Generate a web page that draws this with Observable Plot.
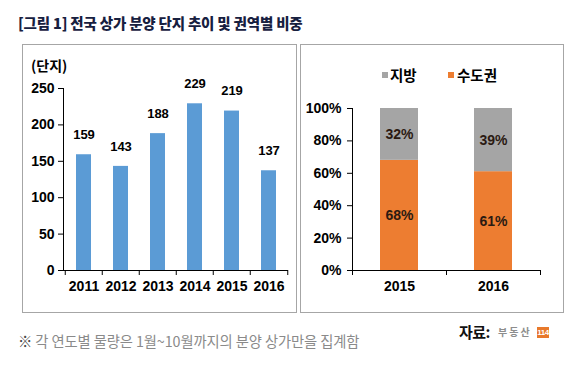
<!DOCTYPE html>
<html><head><meta charset="utf-8">
<script src="https://cdn.jsdelivr.net/npm/d3@7"></script>
<script src="https://cdn.jsdelivr.net/npm/@observablehq/plot@0.6"></script>
<style>
body{margin:0;background:#fff;width:587px;height:376px;position:relative;overflow:hidden;font-family:"Noto Sans CJK KR",sans-serif;}
.abs{position:absolute;white-space:nowrap;}
#title{left:18px;top:12px;font-size:14.5px;font-weight:900;color:#17203f;letter-spacing:-0.2px;line-height:22px}
.box{border:1px solid #a6a6a6;box-sizing:border-box;pointer-events:none}
#unit{left:31px;top:55px;font-size:14px;font-weight:700;color:#000;line-height:20px}
.sq{width:6px;height:6px}
.lg{font-size:14.5px;font-weight:700;color:#000;line-height:20px}
#note{left:18px;top:331px;font-size:14.3px;color:#8a8a8a;line-height:20px;letter-spacing:-0.1px}
#src{left:459px;top:321px;font-size:15px;font-weight:700;color:#111;line-height:22px;letter-spacing:-0.5px}
#logo1{left:498px;top:325px;font-size:10px;font-weight:700;color:#8d8d8d;line-height:14px;letter-spacing:2px}
#logo2{left:537px;top:327px;width:12px;height:11px;background:#e8792b;color:#fff;font-family:"Liberation Sans";font-size:8px;font-weight:700;line-height:11px;text-align:center;letter-spacing:-0.5px}
</style></head><body>
<div id="title" class="abs">[그림 1] 전국 상가 분양 단지 추이 및 권역별 비중</div>
<div id="leftChart" class="abs" style="left:23px;top:45px"></div>
<div id="rightChart" class="abs" style="left:300px;top:45px"></div>
<div class="abs box" style="left:22px;top:44px;width:275px;height:269px"></div>
<div class="abs box" style="left:300px;top:44px;width:264px;height:269px"></div>
<div id="unit" class="abs">(단지)</div>
<div class="abs sq" style="left:382px;top:72px;background:#a5a5a5"></div>
<div class="abs lg" style="left:390px;top:65px">지방</div>
<div class="abs sq" style="left:448px;top:72px;background:#ed7d31"></div>
<div class="abs lg" style="left:457px;top:65px">수도권</div>
<div id="note" class="abs"><span style="color:#444">※</span> 각 연도별 물량은 1월~10월까지의 분양 상가만을 집계함</div>
<div id="src" class="abs">자료:</div>
<div id="logo1" class="abs">부동산</div>
<div id="logo2" class="abs">114</div>
<script>
// ---- data ----
const years = ["2011", "2012", "2013", "2014", "2015", "2016"];
const counts = [159, 143, 188, 229, 219, 137];
const countTicks = [0, 50, 100, 150, 200, 250];

const shareYears = ["2015", "2016"];
const regions = ["수도권", "지방"];
const capitalShare = [68, 61];
const provinceShare = [32, 39];
const shareTicks = [0, 20, 40, 60, 80, 100];
const regionColors = ["#ed7d31", "#a5a5a5"];

// ---- tables ----
const barData = years.map((y, i) => ({year: y, count: counts[i]}));
const shareData = [];
shareYears.forEach((y, i) => {
  shareData.push({year: y, region: regions[0], share: capitalShare[i]});
  shareData.push({year: y, region: regions[1], share: provinceShare[i]});
});

const baseStyle = {fontFamily: "Liberation Sans", fontSize: "13px", fontWeight: "bold", color: "#000", background: "transparent", overflow: "visible"};

// ---- left chart ----
const L = {width: 273, height: 269, ml: 40, mr: 8, mt: 43, mb: 44};
const stepL = (L.width - L.ml - L.mr) / years.length;
const left = Plot.plot({
  width: L.width, height: L.height,
  marginLeft: L.ml, marginRight: L.mr, marginTop: L.mt, marginBottom: L.mb,
  x: {domain: years, paddingInner: 0.6, paddingOuter: 0.3, label: null},
  y: {domain: [0, 250], label: null},
  style: baseStyle,
  marks: [
    Plot.barY(barData, {x: "year", y: "count", fill: "#5b9bd5"}),
    Plot.ruleY([0], {stroke: "#000"}),
    Plot.frame({anchor: "left", stroke: "#000"}),
    Plot.axisY({ticks: countTicks, tickSize: 5, tickPadding: 4, label: null, fontSize: 14}),
    Plot.axisX({tickSize: 0, tickPadding: 11, label: null, fontSize: 14}),
    Plot.axisX({tickSize: 5, tickFormat: () => "", dx: -stepL / 2, label: null}),
    Plot.axisX({ticks: [years[years.length - 1]], tickSize: 5, tickFormat: () => "", dx: stepL / 2, label: null}),
    Plot.text(barData, {x: "year", y: "count", text: d => String(d.count), dy: -20, fill: "#000", fontSize: 13, fontWeight: "bold"})
  ]
});
document.getElementById("leftChart").append(left);

// ---- right chart ----
const R = {width: 263, height: 269, ml: 52, mr: 23, mt: 63, mb: 44};
const stepR = (R.width - R.ml - R.mr) / shareYears.length;
const right = Plot.plot({
  width: R.width, height: R.height,
  marginLeft: R.ml, marginRight: R.mr, marginTop: R.mt, marginBottom: R.mb,
  x: {domain: shareYears, paddingInner: 0.6, paddingOuter: 0.3, label: null},
  y: {domain: [0, 100], label: null},
  color: {domain: regions, range: regionColors},
  style: baseStyle,
  marks: [
    Plot.barY(shareData, {x: "year", y: "share", fill: "region", order: regions}),
    Plot.ruleY([0], {stroke: "#000"}),
    Plot.frame({anchor: "left", stroke: "#000"}),
    Plot.axisY({ticks: shareTicks, tickFormat: d => d + "%", tickSize: 5, tickPadding: 6, label: null, fontSize: 14}),
    Plot.axisX({tickSize: 0, tickPadding: 11, label: null, fontSize: 14}),
    Plot.axisX({tickSize: 5, tickFormat: () => "", dx: -stepR / 2, label: null}),
    Plot.axisX({ticks: [shareYears[shareYears.length - 1]], tickSize: 5, tickFormat: () => "", dx: stepR / 2, label: null}),
    Plot.text(shareData, Plot.stackY({x: "year", y: "share", z: "region", order: regions, text: d => d.share + "%", fill: "#2b1a12", fontSize: 14, fontWeight: "bold"}))
  ]
});
document.getElementById("rightChart").append(right);
</script>
</body></html>
